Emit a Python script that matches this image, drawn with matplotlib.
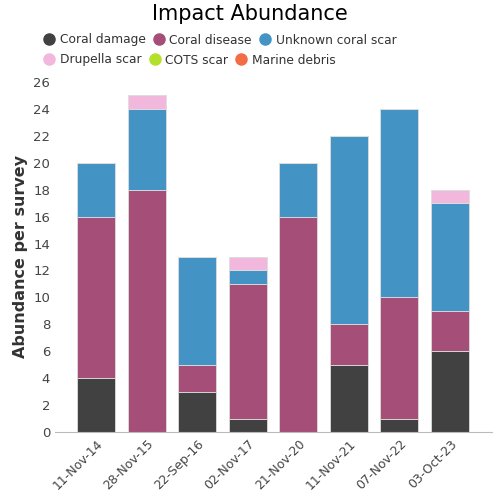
import matplotlib.pyplot as plt
import numpy as np
from matplotlib.lines import Line2D

dates = ['11-Nov-14', '28-Nov-15', '22-Sep-16', '02-Nov-17', '21-Nov-20', '11-Nov-21', '07-Nov-22', '03-Oct-23']
coral_damage = [4, 0, 3, 1, 0, 5, 1, 6]
coral_disease = [12, 18, 2, 10, 16, 3, 9, 3]
unknown_scar = [4, 6, 8, 1, 4, 14, 14, 8]
drupella_scar = [0, 1, 0, 1, 0, 0, 0, 1]
cots_scar = [0, 0, 0, 0, 0, 0, 0, 0]
marine_debris = [0, 0, 0, 0, 0, 0, 0, 0]

series = [
    ('Coral damage', coral_damage, '#414141'),
    ('Coral disease', coral_disease, '#a54e78'),
    ('Unknown coral scar', unknown_scar, '#4394c4'),
    ('Drupella scar', drupella_scar, '#f2b7dc'),
    ('COTS scar', cots_scar, '#b5e02a'),
    ('Marine debris', marine_debris, '#f26d45'),
]

fig = plt.figure(figsize=(5, 5), dpi=100)
ax = fig.add_axes([0.11, 0.136, 0.874, 0.7])

x = np.arange(len(dates))
bottom = np.zeros(len(dates))
for name, vals, col in series:
    vals = np.array(vals, dtype=float)
    ax.bar(x, vals, bottom=bottom, width=0.75, color=col, edgecolor='#dddddd', linewidth=0.6)
    bottom += vals

ax.set_ylim(0, 26)
ax.set_yticks(range(0, 27, 2))
ax.set_xlim(-0.81, len(dates) - 0.17)
ax.set_xticks(x)
ax.set_xticklabels(dates, rotation=45, ha='right', rotation_mode='anchor', fontsize=9, color='#444444')
ax.tick_params(axis='y', labelsize=9.5, colors='#444444', length=0)
ax.tick_params(axis='x', length=0, pad=4)
for s in ['top', 'right', 'left']:
    ax.spines[s].set_visible(False)
ax.spines['bottom'].set_color('#bbbbbb')
ax.set_ylabel('Abundance per survey', fontsize=11.5, fontweight='bold', color='#333333')

fig.text(0.5, 0.973, 'Impact Abundance', ha='center', va='center', fontsize=15)

handles = [Line2D([], [], marker='o', linestyle='', markersize=8, color=c) for _, _, c in series]
labels = [n for n, _, _ in series]
legend_opts = dict(loc='center left', ncol=3, frameon=False, fontsize=8.8, handletextpad=0.35,
                   columnspacing=0.6, borderaxespad=0, handlelength=1.0, borderpad=0)
leg1 = fig.legend(handles[:3], labels[:3], bbox_to_anchor=(0.086, 0.92), **legend_opts)
leg2 = fig.legend(handles[3:], labels[3:], bbox_to_anchor=(0.086, 0.88), **legend_opts)
for leg in (leg1, leg2):
    for t in leg.get_texts():
        t.set_color('#333333')

fig.savefig('out.png', dpi=100)
